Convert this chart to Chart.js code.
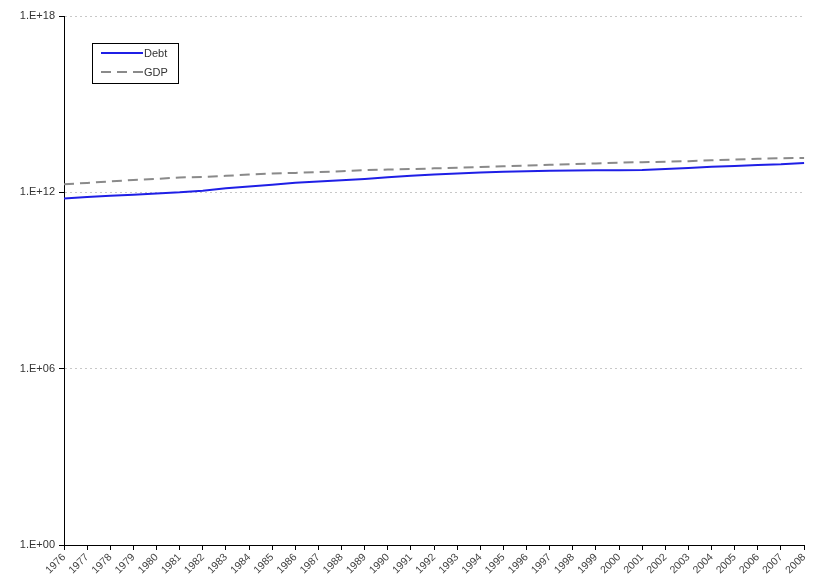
<!DOCTYPE html>
<html>
<head>
<meta charset="utf-8">
<script src="https://cdn.jsdelivr.net/npm/chart.js@4/dist/chart.umd.min.js"></script>
<style>
  html, body { margin: 0; padding: 0; background: #fff; }
  #wrap { position: relative; width: 814px; height: 586px; }
</style>
</head>
<body>
<div id="wrap"><canvas id="chart" width="814" height="586"></canvas></div>
<script>
// years on the category axis
const years = ['1976','1977','1978','1979','1980','1981','1982','1983','1984','1985','1986',
  '1987','1988','1989','1990','1991','1992','1993','1994','1995','1996','1997','1998',
  '1999','2000','2001','2002','2003','2004','2005','2006','2007','2008'];

// debt and GDP, in dollars
const debt = [6.2e11, 6.99e11, 7.72e11, 8.27e11, 9.08e11, 9.98e11, 1.142e12, 1.377e12, 1.572e12,
  1.823e12, 2.125e12, 2.35e12, 2.602e12, 2.857e12, 3.233e12, 3.665e12, 4.065e12, 4.411e12,
  4.693e12, 4.974e12, 5.225e12, 5.413e12, 5.526e12, 5.656e12, 5.674e12, 5.807e12, 6.228e12,
  6.783e12, 7.379e12, 7.933e12, 8.507e12, 9.008e12, 1.0025e13];
const gdp = [1.877e12, 2.086e12, 2.357e12, 2.632e12, 2.863e12, 3.211e12, 3.345e12, 3.638e12,
  4.041e12, 4.347e12, 4.59e12, 4.87e12, 5.253e12, 5.658e12, 5.98e12, 6.174e12, 6.539e12,
  6.879e12, 7.309e12, 7.664e12, 8.1e12, 8.609e12, 9.089e12, 9.661e12, 1.0285e13, 1.0622e13,
  1.0978e13, 1.1511e13, 1.2275e13, 1.3094e13, 1.3856e13, 1.4478e13, 1.4719e13];

// y axis ticks (powers of ten)
const yTicks = [1, 1e6, 1e12, 1e18];

const FONT = 'Liberation Sans, Arial, sans-serif';

function sciLabel(v) {
  const e = Math.round(Math.log10(v));
  return '1.E+' + (e < 10 ? '0' + e : e);
}

// boxed legend inside the plot, upper left
const boxLegend = {
  id: 'boxLegend',
  afterDraw(chart) {
    const ctx = chart.ctx;
    const x = 92, y = 43, w = 86, h = 40;
    ctx.save();
    ctx.fillStyle = '#fff';
    ctx.fillRect(x, y, w, h);
    ctx.strokeStyle = '#000';
    ctx.lineWidth = 1;
    ctx.strokeRect(x + 0.5, y + 0.5, w, h);
    ctx.font = '11px ' + FONT;
    ctx.textBaseline = 'middle';
    chart.data.datasets.forEach((ds, i) => {
      const ly = y + 10 + i * 19;
      ctx.strokeStyle = ds.borderColor;
      ctx.lineWidth = ds.borderWidth;
      ctx.setLineDash(ds.borderDash || []);
      ctx.beginPath();
      ctx.moveTo(x + 9, ly);
      ctx.lineTo(x + 51, ly);
      ctx.stroke();
      ctx.setLineDash([]);
      ctx.fillStyle = '#333';
      ctx.fillText(ds.label, x + 52, ly + 1);
    });
    ctx.restore();
  }
};

new Chart(document.getElementById('chart'), {
  type: 'line',
  data: {
    labels: years,
    datasets: [
      {label: 'Debt', data: debt, borderColor: '#1f1fe6', borderWidth: 2, pointRadius: 0, tension: 0, fill: false},
      {label: 'GDP', data: gdp, borderColor: '#8a8a8a', borderWidth: 2, borderDash: [10, 6], pointRadius: 0, tension: 0, fill: false}
    ]
  },
  options: {
    responsive: false,
    animation: false,
    layout: {padding: {left: 0, right: 4, top: 16, bottom: 0}},
    plugins: {legend: {display: false}, tooltip: {enabled: false}},
    scales: {
      x: {
        offset: false,
        grid: {display: true, drawOnChartArea: false, color: '#000', tickLength: 5, offset: false},
        border: {display: true, color: '#000', width: 1},
        ticks: {autoSkip: false, maxRotation: 45, minRotation: 45, color: '#444', font: {family: FONT, size: 10.5}, padding: 1},
        afterFit: s => { s.height = 41; }
      },
      y: {
        type: 'logarithmic',
        min: 1,
        max: 1e18,
        afterBuildTicks: s => { s.ticks = yTicks.map(v => ({value: v})); },
        grid: {color: '#c8c8c8', tickColor: '#000', tickLength: 5, lineWidth: 1},
        border: {display: true, color: '#000', width: 1, dash: [2, 3]},
        ticks: {color: '#333', font: {family: FONT, size: 11}, padding: 4, callback: v => sciLabel(v)},
        afterFit: s => { s.width = 64; }
      }
    }
  },
  plugins: [boxLegend]
});
</script>
</body>
</html>
